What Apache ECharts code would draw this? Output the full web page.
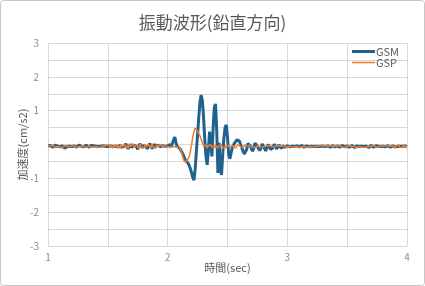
<!DOCTYPE html>
<html><head><meta charset="utf-8">
<script src="https://cdn.jsdelivr.net/npm/echarts@6/dist/echarts.min.js"></script>
<style>html,body{margin:0;padding:0;background:#fff}#c{width:425px;height:286px}</style>
</head><body><div id="c"></div>
<script>
// sample times: 1.00 s to 4.00 s every 0.01 s (301 samples)
var tStart = 1.0, dt = 0.01;
var xTicks = [1, 2, 3, 4];
var yTicks = [3, 2, 1, -1, -2, -3];
var seriesNames = ['GSM', 'GSP'];

var gsmValues = [
-0.04,-0.06,-0.03,-0.05,-0.08,-0.04,-0.02,-0.06,-0.05,-0.03,
-0.07,-0.05,-0.04,-0.09,-0.11,-0.08,-0.06,-0.04,-0.05,-0.07,
-0.06,-0.03,-0.04,-0.06,-0.08,-0.05,-0.02,-0.03,-0.06,-0.09,
-0.07,-0.04,-0.02,-0.05,-0.08,-0.06,-0.03,-0.01,-0.04,-0.07,
-0.05,-0.03,-0.06,-0.09,-0.05,-0.02,-0.04,-0.07,-0.05,-0.03,
-0.06,-0.10,-0.04,0.00,-0.06,-0.11,-0.05,-0.01,-0.07,-0.10,
-0.03,0.01,-0.08,-0.12,-0.04,0.02,-0.06,-0.13,-0.05,0.01,
-0.09,-0.12,-0.02,0.03,-0.07,-0.14,-0.04,0.02,-0.08,-0.11,
-0.03,0.02,-0.06,-0.13,-0.05,0.03,-0.04,-0.12,-0.08,0.01,
-0.05,-0.10,-0.02,0.02,-0.07,-0.11,-0.03,0.01,-0.06,-0.09,
-0.04,-0.09,0.00,-0.07,0.04,0.14,0.22,0.04,-0.06,-0.03,
-0.11,-0.17,-0.22,-0.30,-0.40,-0.47,-0.52,-0.55,-0.62,-0.72,
-0.84,-0.97,-1.05,-0.72,-0.20,0.30,0.80,1.25,1.46,1.30,
0.80,0.15,-0.35,-0.60,-0.20,0.38,0.10,-0.35,0.50,1.10,
1.20,0.40,-0.84,0.05,-0.70,-0.90,-0.30,0.20,0.50,0.58,
0.20,-0.30,-0.42,-0.25,-0.10,-0.02,0.05,0.10,0.14,0.15,
0.10,-0.02,-0.10,-0.20,-0.28,-0.30,-0.15,0.03,0.08,-0.04,
-0.12,-0.20,-0.08,0.04,0.06,-0.05,-0.12,-0.18,-0.10,0.02,
-0.02,-0.12,-0.19,-0.08,0.00,-0.06,-0.15,-0.19,-0.09,0.01,
-0.05,-0.13,-0.09,-0.01,-0.06,-0.12,-0.04,-0.02,-0.08,-0.10,
-0.04,-0.03,-0.07,-0.09,-0.05,-0.03,-0.06,-0.08,-0.04,-0.05,
-0.07,-0.05,-0.03,-0.06,-0.08,-0.05,-0.04,-0.06,-0.07,-0.04,
-0.05,-0.08,-0.06,-0.03,-0.05,-0.07,-0.06,-0.04,-0.05,-0.08,
-0.05,-0.03,-0.06,-0.07,-0.04,-0.06,-0.08,-0.05,-0.03,-0.05,
-0.07,-0.06,-0.04,-0.05,-0.08,-0.06,-0.03,-0.05,-0.07,-0.05,
-0.04,-0.06,-0.08,-0.05,-0.03,-0.06,-0.09,-0.05,-0.04,-0.07,
-0.06,-0.03,-0.05,-0.08,-0.06,-0.04,-0.05,-0.07,-0.09,-0.05,
-0.03,-0.06,-0.08,-0.05,-0.04,-0.07,-0.05,-0.03,-0.06,-0.08,
-0.05,-0.04,-0.07,-0.06,-0.03,-0.05,-0.08,-0.06,-0.04,-0.06,
-0.07,-0.04,-0.06,-0.08,-0.05,-0.03,-0.06,-0.07,-0.04,-0.05,
-0.06
];

var gspValues = [
-0.03,-0.08,-0.04,-0.07,-0.02,-0.06,-0.09,-0.04,-0.06,-0.02,
-0.07,-0.04,-0.10,-0.06,-0.03,-0.08,-0.05,-0.02,-0.07,-0.09,
-0.04,-0.06,-0.02,-0.08,-0.05,-0.07,-0.03,-0.06,-0.10,-0.05,
-0.03,-0.07,-0.04,-0.08,-0.02,-0.06,-0.09,-0.04,-0.07,-0.03,
-0.06,-0.02,-0.08,-0.05,-0.09,-0.03,-0.06,-0.04,-0.08,-0.02,
-0.07,-0.01,-0.09,-0.03,-0.11,-0.02,-0.08,0.00,-0.10,-0.04,
-0.12,0.01,-0.07,-0.11,0.00,-0.09,-0.03,-0.12,0.01,-0.06,
-0.10,0.02,-0.08,-0.13,-0.01,-0.06,-0.12,0.02,-0.09,-0.04,
-0.11,0.01,-0.07,-0.12,0.00,-0.05,-0.10,0.02,-0.08,-0.03,
-0.11,-0.01,-0.07,-0.10,0.01,-0.06,-0.09,-0.02,-0.08,-0.04,
-0.06,-0.02,-0.08,-0.03,-0.07,-0.02,-0.06,-0.04,-0.08,-0.05,
-0.08,-0.18,-0.28,-0.42,-0.50,-0.53,-0.50,-0.42,-0.36,-0.20,
0.00,0.22,0.38,0.48,0.45,0.40,0.35,0.25,0.15,0.05,
-0.04,-0.09,-0.02,-0.10,-0.03,
-0.08,-0.01,-0.09,-0.03,-0.10,-0.02,-0.07,-0.11,-0.03,-0.06,
-0.01,-0.09,-0.04,-0.10,-0.02,-0.07,-0.03,-0.09,-0.05,-0.02,
-0.08,-0.04,-0.10,-0.03,-0.06,-0.01,-0.08,-0.05,-0.09,-0.03,
-0.07,-0.04,-0.09,-0.02,-0.06,-0.08,-0.03,-0.07,-0.05,-0.09,
-0.03,-0.06,-0.08,-0.04,-0.07,-0.02,-0.06,-0.09,-0.04,-0.07,
-0.03,-0.08,-0.05,-0.02,-0.07,-0.09,-0.04,-0.06,-0.03,-0.08,
-0.05,-0.07,-0.03,-0.06,-0.08,-0.04,-0.06,-0.02,-0.07,-0.05,
-0.08,-0.04,-0.06,-0.03,-0.07,-0.05,-0.09,-0.04,-0.06,-0.02,
-0.07,-0.05,-0.08,-0.03,-0.06,-0.04,-0.07,-0.09,-0.05,-0.03,
-0.06,-0.08,-0.04,-0.07,-0.02,-0.06,-0.05,-0.08,-0.03,-0.07,
-0.05,-0.09,-0.04,-0.06,-0.03,-0.08,-0.05,-0.07,-0.02,-0.06,
-0.08,-0.04,-0.07,-0.05,-0.09,-0.03,-0.06,-0.04,-0.08,-0.05,
-0.02,-0.07,-0.05,-0.09,-0.04,-0.06,-0.03,-0.08,-0.05,-0.07,
-0.04,-0.08,-0.03,-0.06,-0.09,-0.05,-0.07,-0.02,-0.06,-0.08,
-0.04,-0.07,-0.05,-0.03,-0.08,-0.06,-0.09,-0.04,-0.07,-0.02,
-0.06,-0.05,-0.08,-0.03,-0.07,-0.10,-0.04,-0.06,-0.01,-0.08,
-0.05,-0.09,-0.03,-0.07,-0.05,-0.06
];

function pairs(vals) {
  return vals.map(function (v, i) { return [+(tStart + i * dt).toFixed(2), v]; });
}

var FONT = '"Noto Sans CJK JP", "Noto Sans", sans-serif';
var chart = echarts.init(document.getElementById('c'), null, {renderer: 'canvas'});
chart.setOption({
  animation: false,
  backgroundColor: '#ffffff',
  textStyle: {fontFamily: FONT},
  title: {
    text: '振動波形(鉛直方向)', left: 'center', top: 9,
    textStyle: {fontFamily: FONT, fontSize: 17, fontWeight: 'normal', color: '#595959'}
  },
  graphic: [{
    type: 'rect', z: -10, silent: true,
    shape: {x: 0.5, y: 0.5, width: 424, height: 285, r: 3},
    style: {fill: 'none', stroke: '#c6c6c6', lineWidth: 1}
  }],
  legend: {
    data: [
      {name: 'GSM', icon: 'rect'},
      {name: 'GSP', icon: 'path://M0,0H23V1.6H0Z'}
    ],
    orient: 'vertical', right: 26, top: 46, padding: 0,
    itemGap: 0, itemWidth: 23, itemHeight: 3,
    textStyle: {fontFamily: FONT, fontSize: 11, lineHeight: 11, color: '#595959', padding: [0, 0, 0, -4]}
  },
  grid: {left: 48, right: 18, top: 43, bottom: 40, containLabel: false},
  xAxis: {
    type: 'value', min: 1, max: 4, interval: 0.5,
    name: '時間(sec)', nameLocation: 'middle', nameGap: 16, nameMoveOverlap: false,
    nameTextStyle: {fontFamily: FONT, fontSize: 11, color: '#595959'},
    axisLine: {show: false}, axisTick: {show: false},
    axisLabel: {
      margin: 6, fontSize: 10, color: '#8c8c8c', fontFamily: FONT,
      formatter: function (v) { return xTicks.indexOf(v) >= 0 ? String(v) : ''; }
    },
    splitLine: {show: true, lineStyle: {color: '#d9d9d9', width: 1}}
  },
  yAxis: {
    type: 'value', min: -3, max: 3, interval: 0.5,
    name: '加速度(cm/s2)', nameLocation: 'middle', nameGap: 20, nameMoveOverlap: false,
    nameTextStyle: {fontFamily: FONT, fontSize: 11, color: '#595959'},
    axisLine: {show: false}, axisTick: {show: false},
    axisLabel: {
      margin: 9, fontSize: 10, color: '#8c8c8c', fontFamily: FONT,
      formatter: function (v) { return yTicks.indexOf(v) >= 0 ? String(v) : ''; }
    },
    splitLine: {show: true, lineStyle: {color: '#d9d9d9', width: 1}}
  },
  series: [
    {name: 'GSM', type: 'line', data: pairs(gsmValues), symbol: 'none', showSymbol: false,
     lineStyle: {color: '#21618f', width: 3}, itemStyle: {color: '#21618f'}, z: 2},
    {name: 'GSP', type: 'line', data: pairs(gspValues), symbol: 'none', showSymbol: false,
     lineStyle: {color: '#ed7d31', width: 1.5}, itemStyle: {color: '#ed7d31'}, z: 3}
  ]
});
</script></body></html>
